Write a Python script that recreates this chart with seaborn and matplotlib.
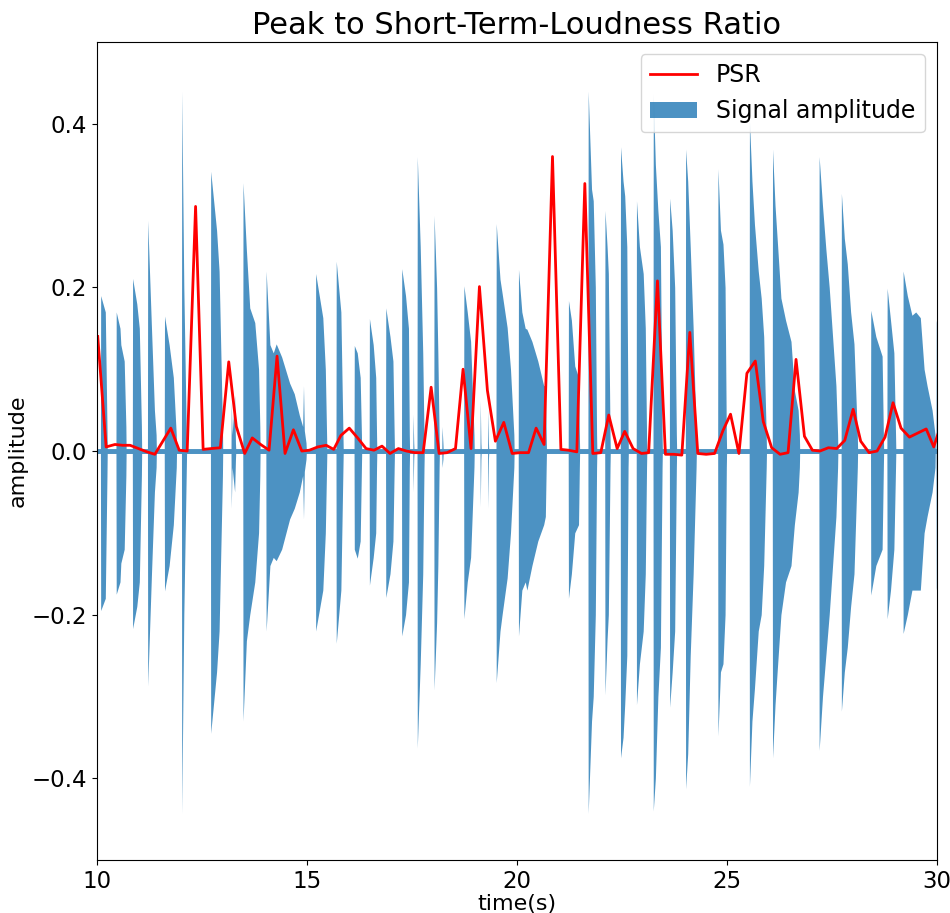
import numpy as np
import seaborn as sns
import matplotlib
matplotlib.use("Agg")
import matplotlib.pyplot as plt

# PSR curve
psr_t = [10.02, 10.22, 10.43, 10.61, 10.79, 10.99, 11.19, 11.38, 11.57, 11.76,
         11.96, 12.15, 12.35, 12.53, 12.72, 12.94, 13.14, 13.32, 13.52, 13.70,
         13.90, 14.10, 14.29, 14.48, 14.68, 14.88, 15.06, 15.26, 15.46, 15.64,
         15.81, 16.01, 16.21, 16.41, 16.60, 16.79, 16.98, 17.18, 17.37, 17.57,
         17.77, 17.96, 18.15, 18.34, 18.54, 18.72, 18.91, 19.11, 19.30, 19.49,
         19.69, 19.89, 20.08, 20.28, 20.46, 20.65, 20.85, 21.05, 21.23, 21.43,
         21.62, 21.81, 22.00, 22.19, 22.39, 22.57, 22.77, 22.97, 23.14, 23.35,
         23.54, 23.74, 23.93, 24.12, 24.31, 24.51, 24.71, 24.91, 25.09, 25.29,
         25.48, 25.68, 25.87, 26.07, 26.27, 26.46, 26.65, 26.85, 27.04, 27.22,
         27.42, 27.62, 27.81, 28.01, 28.19, 28.39, 28.58, 28.77, 28.96, 29.15,
         29.35, 29.55, 29.75, 29.93, 30.12]
psr_v = [0.140, 0.005, 0.008, 0.007, 0.007, 0.003, -0.001, -0.004, 0.012, 0.028,
         0.001, 0.000, 0.299, 0.002, 0.003, 0.004, 0.109, 0.030, -0.003, 0.016,
         0.008, 0.001, 0.116, -0.003, 0.026, 0.000, 0.001, 0.005, 0.007, 0.002,
         0.019, 0.028, 0.016, 0.003, 0.001, 0.006, -0.003, 0.003, 0.000, -0.002,
         -0.002, 0.078, -0.003, -0.002, 0.003, 0.100, 0.003, 0.201, 0.074, 0.012,
         0.035, -0.003, -0.002, -0.002, 0.028, 0.008, 0.360, 0.002, 0.001, -0.001,
         0.327, -0.003, -0.002, 0.044, 0.003, 0.024, 0.003, -0.003, -0.002, 0.208,
         -0.004, -0.004, -0.005, 0.145, -0.003, -0.004, -0.003, 0.025, 0.045, -0.003,
         0.095, 0.110, 0.036, 0.004, -0.004, -0.002, 0.112, 0.018, 0.001, 0.000,
         0.004, 0.003, 0.013, 0.051, 0.012, -0.002, 0.000, 0.017, 0.059, 0.028,
         0.017, 0.022, 0.027, 0.005, 0.035]

# signal envelope, one inner list per note burst (time, upper, lower)
burst_time = [
    [10.09, 10.20, 10.24],
    [10.46, 10.55, 10.57, 10.65, 10.69],
    [10.85, 10.95, 11.01, 11.06],
    [11.21, 11.30, 11.37, 11.41],
    [11.61, 11.72, 11.82, 11.89],
    [12.02, 12.07, 12.13],
    [12.71, 12.85, 12.91, 12.99],
    [13.20, 13.22, 13.28, 13.30],
    [13.48, 13.56, 13.64, 13.76, 13.85, 13.88],
    [14.03, 14.12, 14.20, 14.27, 14.40, 14.59, 14.70, 14.82, 14.90, 14.92, 14.94, 14.98],
    [15.21, 15.38, 15.44, 15.47],
    [15.70, 15.81, 15.86],
    [16.13, 16.20, 16.27, 16.30],
    [16.49, 16.58, 16.64, 16.66],
    [16.88, 16.98, 17.05, 17.08],
    [17.26, 17.35, 17.42, 17.44],
    [17.53, 17.545],
    [17.63, 17.70, 17.76, 17.79],
    [18.03, 18.09, 18.12, 18.15],
    [18.22, 18.24],
    [18.74, 18.82, 18.90, 18.98],
    [19.13, 19.145],
    [19.31, 19.325],
    [19.51, 19.60, 19.65, 19.77, 19.85, 19.93],
    [20.04, 20.12, 20.20, 20.24, 20.36, 20.50, 20.64, 20.68, 20.70],
    [21.23, 21.30, 21.38, 21.47, 21.49],
    [21.70, 21.78, 21.82, 21.87, 21.90],
    [22.10, 22.15, 22.18, 22.22],
    [22.47, 22.53, 22.57, 22.62, 22.65],
    [22.85, 22.92, 23.01, 23.06, 23.09],
    [23.25, 23.30, 23.36, 23.42, 23.46],
    [23.64, 23.70, 23.76, 23.80],
    [24.02, 24.07, 24.13, 24.20, 24.27],
    [24.79, 24.85, 24.91, 24.96, 24.99],
    [25.54, 25.60, 25.66, 25.75, 25.82, 25.88, 25.94],
    [26.09, 26.15, 26.20, 26.29, 26.40, 26.53, 26.61, 26.70, 26.73],
    [27.20, 27.28, 27.36, 27.44, 27.52, 27.60, 27.64],
    [27.73, 27.80, 27.87, 27.95, 28.03, 28.11],
    [28.43, 28.55, 28.70, 28.73],
    [28.82, 28.90, 28.98, 29.02],
    [29.20, 29.30, 29.41, 29.50, 29.61, 29.70, 29.77, 29.89, 29.96],
    [29.99, 30.10],
]
burst_hi = [
    [0.19, 0.17, 0.03],
    [0.17, 0.15, 0.13, 0.11, 0.03],
    [0.211, 0.18, 0.15, 0.03],
    [0.282, 0.15, 0.05, 0.02],
    [0.165, 0.13, 0.09, 0.02],
    [0.44, 0.20, 0.02],
    [0.342, 0.27, 0.22, 0.03],
    [0.06, 0.02, 0.068, 0.01],
    [0.328, 0.246, 0.175, 0.157, 0.10, 0.03],
    [0.22, 0.13, 0.12, 0.131, 0.115, 0.083, 0.07, 0.044, 0.03, 0.08, 0.025, 0.01],
    [0.217, 0.163, 0.10, 0.02],
    [0.232, 0.17, 0.02],
    [0.129, 0.12, 0.09, 0.02],
    [0.162, 0.13, 0.09, 0.02],
    [0.175, 0.14, 0.11, 0.02],
    [0.223, 0.19, 0.15, 0.02],
    [0.045, 0.01],
    [0.36, 0.25, 0.12, 0.02],
    [0.288, 0.20, 0.12, 0.02],
    [0.03, 0.01],
    [0.202, 0.17, 0.134, 0.02],
    [0.062, 0.01],
    [0.05, 0.01],
    [0.278, 0.21, 0.193, 0.151, 0.10, 0.02],
    [0.222, 0.17, 0.15, 0.149, 0.134, 0.11, 0.08, 0.08, 0.02],
    [0.184, 0.16, 0.104, 0.09, 0.02],
    [0.44, 0.32, 0.306, 0.20, 0.02],
    [0.294, 0.25, 0.217, 0.02],
    [0.372, 0.33, 0.312, 0.25, 0.02],
    [0.306, 0.25, 0.217, 0.15, 0.02],
    [0.437, 0.35, 0.294, 0.25, 0.02],
    [0.309, 0.27, 0.20, 0.02],
    [0.369, 0.33, 0.25, 0.15, 0.02],
    [0.345, 0.27, 0.253, 0.20, 0.02],
    [0.404, 0.33, 0.277, 0.22, 0.187, 0.14, 0.02],
    [0.369, 0.30, 0.26, 0.187, 0.16, 0.134, 0.074, 0.05, 0.02],
    [0.36, 0.30, 0.247, 0.20, 0.14, 0.08, 0.02],
    [0.315, 0.26, 0.229, 0.17, 0.131, 0.02],
    [0.172, 0.14, 0.116, 0.02],
    [0.199, 0.16, 0.12, 0.02],
    [0.22, 0.19, 0.166, 0.17, 0.163, 0.10, 0.08, 0.05, 0.02],
    [0.16, 0.10],
]
burst_lo = [
    [-0.195, -0.18, -0.03],
    [-0.175, -0.16, -0.137, -0.12, -0.03],
    [-0.217, -0.19, -0.16, -0.03],
    [-0.287, -0.15, -0.05, -0.02],
    [-0.171, -0.14, -0.09, -0.02],
    [-0.443, -0.20, -0.02],
    [-0.345, -0.27, -0.22, -0.03],
    [-0.07, -0.02, -0.05, -0.01],
    [-0.33, -0.232, -0.20, -0.16, -0.10, -0.03],
    [-0.22, -0.14, -0.13, -0.134, -0.12, -0.083, -0.07, -0.05, -0.03, -0.083, -0.025, -0.01],
    [-0.22, -0.17, -0.10, -0.02],
    [-0.235, -0.17, -0.02],
    [-0.12, -0.131, -0.11, -0.02],
    [-0.164, -0.13, -0.10, -0.02],
    [-0.179, -0.15, -0.11, -0.02],
    [-0.226, -0.20, -0.16, -0.02],
    [-0.05, -0.01],
    [-0.363, -0.26, -0.15, -0.02],
    [-0.292, -0.21, -0.14, -0.02],
    [-0.02, -0.01],
    [-0.205, -0.16, -0.13, -0.02],
    [-0.068, -0.01],
    [-0.07, -0.01],
    [-0.283, -0.22, -0.20, -0.155, -0.10, -0.02],
    [-0.226, -0.17, -0.16, -0.17, -0.14, -0.11, -0.09, -0.08, -0.02],
    [-0.18, -0.15, -0.10, -0.09, -0.02],
    [-0.443, -0.33, -0.30, -0.20, -0.02],
    [-0.298, -0.23, -0.20, -0.02],
    [-0.375, -0.35, -0.31, -0.25, -0.02],
    [-0.31, -0.26, -0.22, -0.15, -0.02],
    [-0.44, -0.40, -0.30, -0.24, -0.02],
    [-0.313, -0.27, -0.22, -0.02],
    [-0.413, -0.37, -0.25, -0.15, -0.02],
    [-0.348, -0.27, -0.26, -0.20, -0.02],
    [-0.41, -0.33, -0.29, -0.22, -0.20, -0.14, -0.02],
    [-0.375, -0.31, -0.27, -0.20, -0.16, -0.14, -0.09, -0.05, -0.02],
    [-0.366, -0.30, -0.25, -0.20, -0.14, -0.08, -0.02],
    [-0.318, -0.27, -0.24, -0.19, -0.15, -0.02],
    [-0.176, -0.14, -0.12, -0.02],
    [-0.205, -0.17, -0.12, -0.02],
    [-0.223, -0.20, -0.17, -0.17, -0.17, -0.10, -0.08, -0.05, -0.02],
    [-0.17, -0.10],
]
noise_floor = 0.003

# build the envelope polygon
env_t, env_hi, env_lo = [9.9], [noise_floor], [-noise_floor]
for ts, hs, ls in zip(burst_time, burst_hi, burst_lo):
    env_t += [ts[0] - 0.006] + ts + [ts[-1] + 0.006]
    env_hi += [noise_floor] + hs + [noise_floor]
    env_lo += [-noise_floor] + ls + [-noise_floor]

fig = plt.figure(figsize=(9.5, 9.13), dpi=100)
ax = fig.add_subplot(111)
fig.subplots_adjust(left=0.102, right=0.986, top=0.954, bottom=0.058)

ax.fill_between(env_t, env_lo, env_hi, color="#1f77b4", alpha=0.8,
                linewidth=0, label="Signal amplitude")
sns.lineplot(x=psr_t, y=psr_v, color="red", linewidth=2, label="PSR", ax=ax)

ax.set_xlim(10, 30)
ax.set_ylim(-0.5, 0.5)
ax.set_xticks([10, 15, 20, 25, 30])
ax.set_yticks([-0.4, -0.2, 0.0, 0.2, 0.4])
ax.tick_params(labelsize=16.5)
ax.set_title("Peak to Short-Term-Loudness Ratio", fontsize=22)
ax.set_xlabel("time(s)", fontsize=16, labelpad=1)
ax.set_ylabel("amplitude", fontsize=16, labelpad=3)

handles, labels = ax.get_legend_handles_labels()
order = [labels.index("PSR"), labels.index("Signal amplitude")]
ax.legend([handles[i] for i in order], [labels[i] for i in order],
          loc="upper right", fontsize=17)

plt.savefig("out.png", dpi=100)
